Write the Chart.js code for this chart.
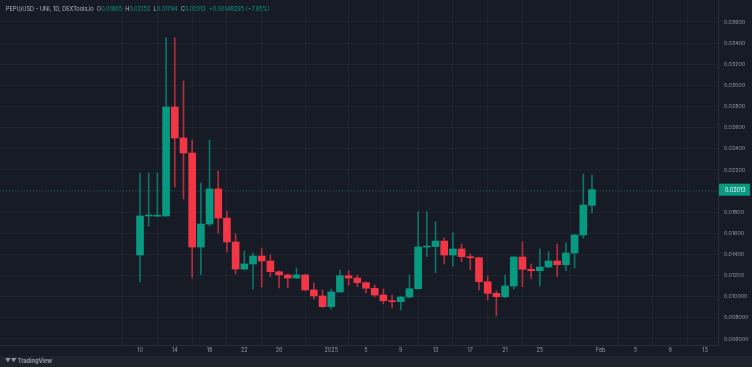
<!DOCTYPE html>
<html>
<head>
<meta charset="utf-8">
<script src="https://cdn.jsdelivr.net/npm/chart.js@4"></script>
<style>
  html, body { margin: 0; padding: 0; background: #1e222d; }
  #wrap { position: relative; width: 752px; height: 367px; overflow: hidden; background: #1e222d; }
  #box { position: absolute; left: 0; top: 0; width: 752px; height: 356px; background: #171b26; }
  #head { position: absolute; left: 6px; top: 6px; font: 5.6px Inter, sans-serif; color: #b2b5be; white-space: nowrap; }
  #head .v { color: #089981; }
  #foot { position: absolute; left: 5px; top: 358px; font: bold 5.5px Inter, sans-serif; color: #9598a1; white-space: nowrap; }
</style>
</head>
<body>
<div id="wrap">
  <div id="box"><canvas id="chart"></canvas></div>
  <div id="head">PEPU/USD - UNI, 1D, DEXTools.io &nbsp;O<span class="v">0.01865</span> &nbsp;H<span class="v">0.02152</span> &nbsp;L<span class="v">0.01794</span> &nbsp;C<span class="v">0.02013</span> &nbsp;<span class="v">+0.00148295 (+7.95%)</span></div>
  <div id="foot">&#9660;&#9660; TradingView</div>
</div>
<script>
// daily candles, PEPU/USD
const dates = [
  '2024-12-10','2024-12-11','2024-12-12','2024-12-13','2024-12-14','2024-12-15','2024-12-16',
  '2024-12-17','2024-12-18','2024-12-19','2024-12-20','2024-12-21','2024-12-22','2024-12-23',
  '2024-12-24','2024-12-25','2024-12-26','2024-12-27','2024-12-28','2024-12-29','2024-12-30',
  '2024-12-31','2025-01-01','2025-01-02','2025-01-03','2025-01-04','2025-01-05','2025-01-06',
  '2025-01-07','2025-01-08','2025-01-09','2025-01-10','2025-01-11','2025-01-12','2025-01-13',
  '2025-01-14','2025-01-15','2025-01-16','2025-01-17','2025-01-18','2025-01-19','2025-01-20',
  '2025-01-21','2025-01-22','2025-01-23','2025-01-24','2025-01-25','2025-01-26','2025-01-27',
  '2025-01-28','2025-01-29','2025-01-30','2025-01-31'
];
const opens = [
  0.01395, 0.01764, 0.01762, 0.01764, 0.02795, 0.02502, 0.0236, 0.0147, 0.01688, 0.0202, 0.01745,
  0.01518, 0.01262, 0.0131, 0.01385, 0.01338, 0.01237, 0.01206, 0.01177, 0.01206, 0.01064, 0.01007,
  0.00906, 0.01045, 0.01199, 0.01177, 0.01133, 0.0108, 0.01016, 0.00962, 0.00953, 0.00997, 0.01076,
  0.0147, 0.01475, 0.01527, 0.01395, 0.01452, 0.01379, 0.01369, 0.01142, 0.01032, 0.0100, 0.01102,
  0.01376, 0.0126, 0.01246, 0.01281, 0.01338, 0.01303, 0.01414, 0.01584, 0.01865
];
const highs = [
  0.02171, 0.02171, 0.02171, 0.03449, 0.03449, 0.03042, 0.02483, 0.02076, 0.02483, 0.0219, 0.01811,
  0.01594, 0.01433, 0.01414, 0.01461, 0.01395, 0.01246, 0.01215, 0.01272, 0.0121, 0.0113, 0.01064,
  0.01073, 0.01253, 0.01246, 0.01206, 0.0114, 0.01111, 0.01073, 0.01016, 0.01005, 0.01206, 0.01805,
  0.01805, 0.0171, 0.01556, 0.01606, 0.01499, 0.01404, 0.01375, 0.01196, 0.01054, 0.01206, 0.0138,
  0.0152, 0.0131, 0.01452, 0.01426, 0.01499, 0.01509, 0.0159, 0.02161, 0.02152
];
const lows = [
  0.01139, 0.01669, 0.0176, 0.0176, 0.02038, 0.01925, 0.01177, 0.01206, 0.01669, 0.01603, 0.01423,
  0.01215, 0.01253, 0.01073, 0.01092, 0.0119, 0.01083, 0.01085, 0.0117, 0.0106, 0.00978, 0.009,
  0.00884, 0.0104, 0.01111, 0.01095, 0.01035, 0.0100, 0.00931, 0.00896, 0.00874, 0.0099, 0.0107,
  0.01379, 0.01227, 0.0131, 0.01291, 0.01331, 0.01253, 0.01064, 0.00969, 0.0082, 0.0099, 0.01073,
  0.01095, 0.01174, 0.01102, 0.01272, 0.0119, 0.01246, 0.01272, 0.01556, 0.01794
];
const closes = [
  0.01764, 0.01768, 0.01766, 0.02795, 0.02502, 0.0236, 0.0147, 0.01688, 0.0202, 0.01745, 0.01518,
  0.01262, 0.0131, 0.01385, 0.01338, 0.01237, 0.01206, 0.01177, 0.01206, 0.01064, 0.01007, 0.00906,
  0.01045, 0.01199, 0.01177, 0.01133, 0.0108, 0.01016, 0.00962, 0.00953, 0.00997, 0.01076, 0.0147,
  0.01475, 0.01527, 0.01395, 0.01452, 0.01379, 0.01369, 0.01142, 0.01032, 0.0100, 0.01102, 0.01376,
  0.0126, 0.01246, 0.01281, 0.01338, 0.01303, 0.01414, 0.01584, 0.01868, 0.02013
];

// time axis labels
const tickDates = ['2024-12-10','2024-12-14','2024-12-18','2024-12-22','2024-12-26','2025-01-01',
  '2025-01-05','2025-01-09','2025-01-13','2025-01-17','2025-01-21','2025-01-25','2025-02-01',
  '2025-02-05','2025-02-09','2025-02-13'];
const tickLabels = ['10','14','18','22','26','2025','5','9','13','17','21','25','Feb','5','9','13'];
const priceTicks = [0.006, 0.008, 0.010, 0.012, 0.014, 0.016, 0.018, 0.020, 0.022, 0.024,
  0.026, 0.028, 0.030, 0.032, 0.034, 0.036];

const UP = '#089981', DOWN = '#f23645';
const base = Date.parse(dates[0]);
const dayOf = d => (Date.parse(d) - base) / 86400000;

const isUp = closes.map((c, i) => c >= opens[i]);
const bodies = dates.map((d, i) => ({ x: dayOf(d), y: [opens[i], closes[i]] }));
const wicks = dates.map((d, i) => ({ x: dayOf(d), y: [lows[i], highs[i]] }));
const lastClose = closes[closes.length - 1];

const priceLine = {
  id: 'priceLine',
  beforeDatasetsDraw(chart) {
    const { ctx, chartArea, scales } = chart;
    const y = Math.round(scales.y.getPixelForValue(lastClose)) + 0.5;
    ctx.save();
    ctx.strokeStyle = 'rgba(8,153,129,0.35)';
    ctx.setLineDash([1, 2]);
    ctx.lineWidth = 1;
    ctx.beginPath();
    ctx.moveTo(chartArea.left, y);
    ctx.lineTo(chartArea.right, y);
    ctx.stroke();
    ctx.restore();
  },
  afterDraw(chart) {
    const { ctx, chartArea, scales } = chart;
    const y = scales.y.getPixelForValue(lastClose);
    ctx.save();
    ctx.fillStyle = UP;
    ctx.fillRect(chartArea.right + 1, y - 6, 31, 12);
    ctx.fillStyle = '#ffffff';
    ctx.font = '5.5px Inter, sans-serif';
    ctx.textBaseline = 'middle';
    ctx.fillText(lastClose.toFixed(5), chartArea.right + 7, y + 0.5);
    ctx.restore();
  }
};

new Chart(document.getElementById('chart'), {
  type: 'bar',
  data: {
    datasets: [
      {
        data: wicks,
        grouped: false,
        barThickness: 1,
        backgroundColor: isUp.map(u => u ? 'rgba(8,153,129,0.7)' : 'rgba(242,54,69,0.7)'),
        order: 2
      },
      {
        data: bodies,
        grouped: false,
        barThickness: 7,
        minBarLength: 1,
        backgroundColor: isUp.map(u => u ? UP : DOWN),
        order: 1
      }
    ]
  },
  options: {
    responsive: true,
    maintainAspectRatio: false,
    animation: false,
    layout: { padding: 0 },
    plugins: { legend: { display: false }, tooltip: { enabled: false } },
    scales: {
      x: {
        type: 'linear',
        offset: false,
        min: -16.11,
        max: 66.5,
        afterBuildTicks(axis) {
          axis.ticks = tickDates.map(d => ({ value: dayOf(d) }));
        },
        afterFit(axis) {
          axis.height = 11;
          axis.paddingLeft = 0;
          axis.paddingRight = 0;
        },
        ticks: {
          autoSkip: false,
          maxRotation: 0,
          padding: 2,
          color: '#9598a1',
          font: { family: 'Inter, sans-serif', size: 5.5 },
          callback: (v, i) => tickLabels[i]
        },
        grid: { color: 'rgba(42,46,57,0.45)', drawTicks: false },
        border: { color: '#2a2e39' }
      },
      y: {
        position: 'right',
        min: 0.005432,
        max: 0.038081,
        afterBuildTicks(axis) {
          axis.ticks = priceTicks.map(v => ({ value: v }));
        },
        afterFit(axis) {
          axis.width = 34;
          axis.paddingTop = 0;
          axis.paddingBottom = 0;
        },
        ticks: {
          padding: 6,
          color: '#9598a1',
          font: { family: 'Inter, sans-serif', size: 5.3 },
          callback: v => v < 0.011 ? v.toFixed(6) : v.toFixed(5)
        },
        grid: { color: 'rgba(42,46,57,0.45)', drawTicks: false },
        border: { color: '#2a2e39' }
      }
    }
  },
  plugins: [priceLine]
});
</script>
</body>
</html>
